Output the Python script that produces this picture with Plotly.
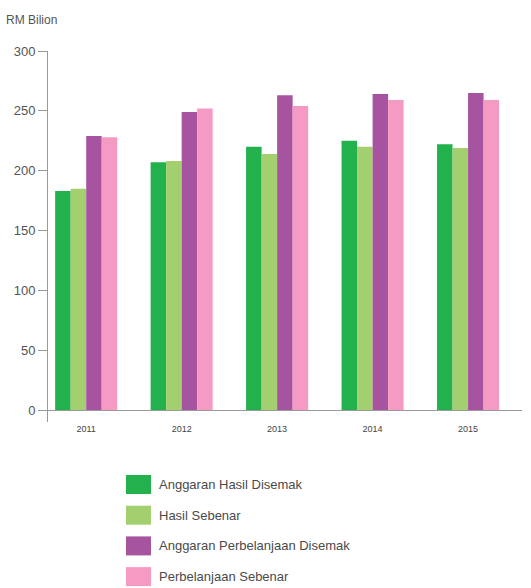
import plotly.graph_objects as go

years = ["2011", "2012", "2013", "2014", "2015"]
series_names = [
    "Anggaran Hasil Disemak",
    "Hasil Sebenar",
    "Anggaran Perbelanjaan Disemak",
    "Perbelanjaan Sebenar",
]
anggaran_hasil = [183, 207, 220, 225, 222]
hasil_sebenar = [185, 208, 214, 220, 219]
anggaran_belanja = [229, 249, 263, 264, 265]
belanja_sebenar = [228, 252, 254, 259, 259]
colors = ["#22b14c", "#a3cf6e", "#a6549f", "#f59ac2"]
y_ticks = [0, 50, 100, 150, 200, 250, 300]

W, H = 531, 588
L, R, T, B = 48, 9, 51, 166
pw, ph = W - L - R, H - T - B

def px_x(px):
    return (px - L) / pw

def px_y(py):
    return (H - B - py) / ph

fig = go.Figure()
for name, vals, col in zip(series_names,
                           [anggaran_hasil, hasil_sebenar, anggaran_belanja, belanja_sebenar],
                           colors):
    fig.add_trace(go.Bar(x=years, y=vals, name=name, marker_color=col,
                         marker_line_width=0, showlegend=False))

# custom legend with large swatches
shapes = []
annotations = []
for i, (name, col) in enumerate(zip(series_names, colors)):
    top = 475 + i * 30.7
    shapes.append(dict(type="rect", xref="paper", yref="paper",
                       x0=px_x(126), x1=px_x(151), y0=px_y(top), y1=px_y(top + 19),
                       fillcolor=col, line_width=0, layer="above"))
    annotations.append(dict(xref="paper", yref="paper", x=px_x(157), y=px_y(top + 9.5),
                            text=name, showarrow=False, xanchor="left", yanchor="middle",
                            font=dict(family="Liberation Sans, Arial", size=13, color="#4a4a4a")))

annotations.append(dict(xref="paper", yref="paper", x=px_x(4), y=px_y(20),
                        text="RM Bilion", showarrow=False, xanchor="left", yanchor="middle",
                        font=dict(family="Liberation Sans, Arial", size=12, color="#555")))

fig.update_layout(
    width=W, height=H,
    margin=dict(l=L, r=R, t=T, b=B),
    paper_bgcolor="white", plot_bgcolor="white",
    barmode="group", bargap=0.35, bargroupgap=0,
    font=dict(family="Liberation Sans, Arial", color="#555"),
    shapes=shapes, annotations=annotations,
    xaxis=dict(range=[-0.4, 4.565], showline=False, showgrid=False, ticks="",
               tickfont=dict(size=9, color="#444"), zeroline=False),
    yaxis=dict(range=[-10, 300], tickvals=y_ticks, showgrid=False,
               showline=True, linecolor="#999", linewidth=1,
               ticks="outside", ticklen=9, tickcolor="#999",
               zeroline=True, zerolinecolor="#999", zerolinewidth=1,
               tickfont=dict(size=13, color="#555")),
)

fig.write_html("out.html", config={"displayModeBar": False},
               post_script="document.body.style.margin='0';")
